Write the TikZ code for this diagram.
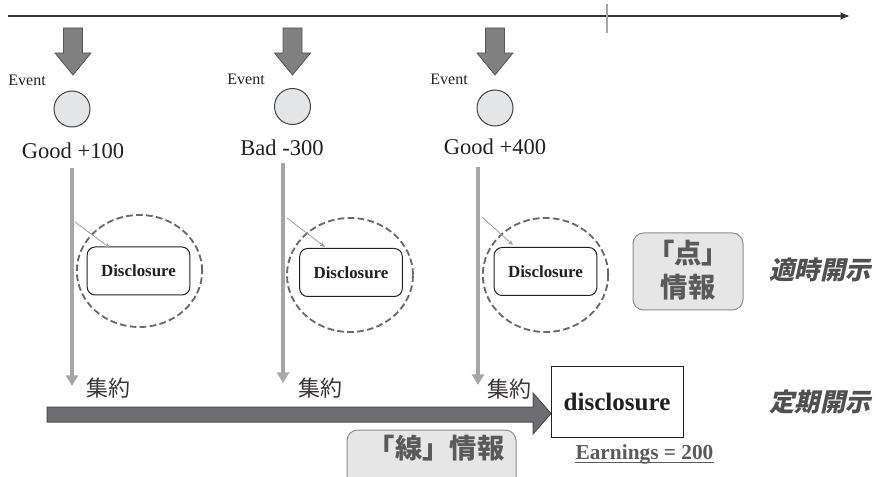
\documentclass[tikz,border=0pt]{standalone}
\usepackage{fontspec}
\setmainfont{Liberation Serif}
\newfontfamily\cjk{Noto Sans CJK JP}
\newfontfamily\cjkbi{Noto Sans CJK JP}[FakeSlant=0.22]
\usetikzlibrary{arrows.meta,shapes.geometric}
\definecolor{ink}{HTML}{231F20}
\definecolor{blockgray}{HTML}{808080}
\definecolor{blockedge}{HTML}{555555}
\definecolor{barGray}{HTML}{A6A6A6}
\definecolor{circfill}{HTML}{E4E5E6}
\definecolor{dashgray}{HTML}{6A6A6A}
\definecolor{boxfill}{HTML}{E6E6E6}
\definecolor{boxedge}{HTML}{8C8C8C}
\definecolor{softtext}{HTML}{5A5A5A}
\definecolor{sidetext}{HTML}{505050}
\definecolor{bigarrow}{HTML}{6D6E71}
\begin{document}
\begin{tikzpicture}[x=0.75pt,y=-0.75pt,
  eventlbl/.style={font=\fontsize{12}{14}\selectfont, text=ink, inner sep=0pt, anchor=base east},
  eventdot/.style={circle, draw=ink!85, fill=circfill, line width=0.75pt, minimum size=27pt, inner sep=0pt},
  valuelbl/.style={font=\fontsize{16.9}{20}\selectfont, text=ink, inner sep=0pt, anchor=base},
  downbar/.style={draw=barGray, line width=3pt, -{Triangle[length=8pt,width=9pt]}},
  thinarrow/.style={draw=gray!75, line width=0.6pt, -{Stealth[length=4pt,width=3.5pt]}},
  dashring/.style={ellipse, draw=dashgray, dashed, dash pattern=on 5pt off 2.5pt, line width=1.4pt, inner sep=0pt},
  discbox/.style={rectangle, rounded corners=6pt, draw=ink, line width=0.75pt, minimum width=77pt, minimum height=36pt,
     font=\bfseries\fontsize{12.7}{14}\selectfont, text=ink},
  grayinfo/.style={rectangle, rounded corners=8pt, draw=boxedge, fill=boxfill, line width=0.75pt},
  cjklbl/.style={font=\cjk\fontsize{16.5}{18}\selectfont, text=ink!90, inner sep=0pt},
  sidelbl/.style={font=\cjkbi\bfseries\fontsize{19}{22}\selectfont, text=sidetext, inner sep=0pt},
  blockarrow/.style={draw=blockedge, fill=blockgray, line width=0.6pt, line join=miter}
]
\useasboundingbox (0,0) rectangle (878,477);

% time axis
\coordinate (axL) at (8,16);
\coordinate (axR) at (850,16);
\draw[line width=1.5pt, draw=ink!90, -{Latex[length=7pt,width=6pt]}] (axL) -- (axR);
\coordinate (tickT) at (607,4);
\coordinate (tickB) at (607,33);
\draw[line width=1.5pt, draw=barGray] (tickT) -- (tickB);

% block arrows pointing down to events
\foreach \cx in {73,292.5,495}{
  \draw[blockarrow] (\cx-9.5,28) -- (\cx+9.5,28) -- (\cx+9.5,53) -- (\cx+18,53)
     -- (\cx,75) -- (\cx-18,53) -- (\cx-9.5,53) -- cycle;
}

% event labels and dots
\node[eventlbl] (ev1) at (46,86) {Event};
\node[eventlbl] (ev2) at (265,85) {Event};
\node[eventlbl] (ev3) at (468,85) {Event};
\node[eventdot] (dot1) at (72,109) {};
\node[eventdot] (dot2) at (292.5,106.5) {};
\node[eventdot] (dot3) at (495,108) {};

% values
\node[valuelbl] (val1) at (73,159) {Good +100};
\node[valuelbl] (val2) at (282,156) {Bad -300};
\node[valuelbl] (val3) at (495,155) {Good +400};

% vertical gray arrows
\coordinate (v1top) at (72,168);  \coordinate (v1bot) at (72,386);
\coordinate (v2top) at (283,163); \coordinate (v2bot) at (283,383);
\coordinate (v3top) at (478,167); \coordinate (v3bot) at (478,385);
\draw[downbar] (v1top) -- (v1bot);
\draw[downbar] (v2top) -- (v2bot);
\draw[downbar] (v3top) -- (v3bot);

% dashed rings and disclosure boxes
\node[dashring, minimum width=94pt, minimum height=84pt] (ring1) at (139.5,271) {};
\node[dashring, minimum width=94.5pt, minimum height=85.5pt] (ring2) at (350,275) {};
\node[dashring, minimum width=94pt, minimum height=85.5pt] (ring3) at (545.5,275) {};
\node[discbox] (disc1) at (138.5,271) {Disclosure};
\node[discbox] (disc2) at (351,272.5) {Disclosure};
\node[discbox] (disc3) at (545.5,271.5) {Disclosure};

% thin arrows into the boxes
\coordinate (t1) at (75,222);  \coordinate (h1) at (110,248);
\coordinate (t2) at (287,218); \coordinate (h2) at (325,247);
\coordinate (t3) at (482,217); \coordinate (h3) at (513,245);
\draw[thinarrow] (t1) -- (h1);
\draw[thinarrow] (t2) -- (h2);
\draw[thinarrow] (t3) -- (h3);

% point information
\node[grayinfo, minimum width=82.5pt, minimum height=57.75pt] (pointbox) at (688,271.5) {};
\node[font=\cjk\bfseries\fontsize{20.5}{25.5}\selectfont, text=softtext, align=center, inner sep=0pt] (pointtxt) at (688,270) {「点」\\情報};
\node[sidelbl] (tekiji) at (820,270) {適時開示};

% aggregation labels
\node[cjklbl] (agg1) at (108.5,388) {集約};
\node[cjklbl] (agg2) at (320,388) {集約};
\node[cjklbl] (agg3) at (509,389) {集約};

% big horizontal arrow
\draw[draw=ink!80, fill=bigarrow, line width=0.75pt, line join=miter]
  (47,407) -- (533,407) -- (533,393) -- (551,413.5) -- (533,434) -- (533,422) -- (47,422) -- cycle;

% periodic disclosure box
\node[rectangle, draw=ink, line width=0.75pt, minimum width=99pt, minimum height=53.25pt,
      font=\bfseries\fontsize{18.8}{22}\selectfont, text=ink] (pdisc) at (617,401.5) {disclosure};
\node[font=\bfseries\fontsize{16}{18}\selectfont, text=softtext, inner sep=0pt, anchor=base] (earn) at (644.5,459) {Earnings = 200};
\draw[draw=softtext, line width=1.2pt] ([yshift=-2.5pt]earn.base west) -- ([yshift=-2.5pt]earn.base east);
\node[sidelbl] (teiki) at (820,402) {定期開示};

% line information
\node[grayinfo, minimum width=126.75pt, minimum height=45pt] (linebox) at (431.5,460) {};
\node[font=\cjk\bfseries\fontsize{20.5}{24}\selectfont, text=softtext, inner sep=0pt] (linetxt) at (436,448) {「線」情報};
\end{tikzpicture}
\end{document}
